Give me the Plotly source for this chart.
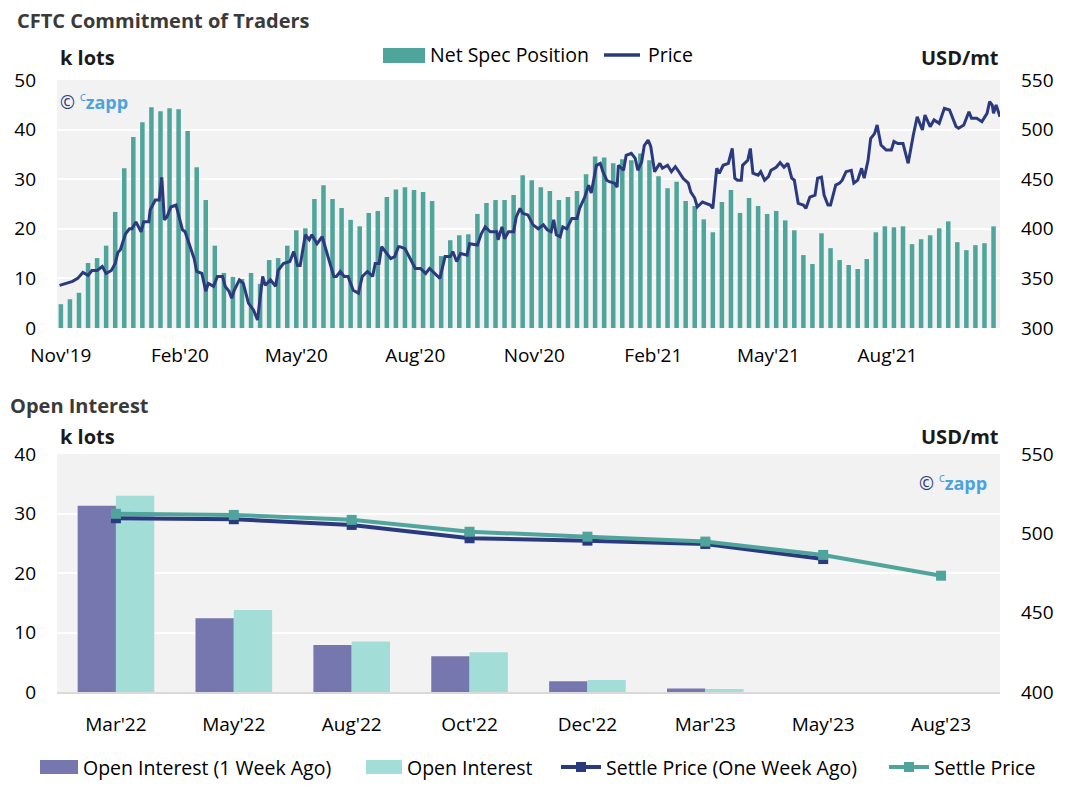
import plotly.graph_objects as go
import pandas as pd

# ---------------- Top chart data ----------------
spec_dates = pd.date_range("2019-11-01", periods=104, freq="7D")
net_spec = [
    4.8, 5.8, 7.1, 13.1, 14.1, 16.6, 23.4, 32.2, 38.5, 41.5,
    44.5, 43.7, 44.3, 44.1, 39.7, 32.4, 25.8, 16.6, 11.1, 10.3,
    9.9, 11.1, 8.9, 13.7, 14.1, 16.6, 19.7, 20.1, 26.0, 28.8,
    26.0, 24.2, 21.8, 20.5, 23.2, 23.6, 26.4, 27.9, 28.4, 27.8,
    27.4, 25.6, 14.5, 17.7, 18.7, 18.9, 23.0, 25.2, 25.8, 25.8,
    26.8, 30.8, 29.8, 28.4, 27.6, 25.8, 26.4, 27.6, 31.0, 34.6,
    34.4, 33.2, 34.0, 33.8, 35.2, 33.8, 30.6, 28.2, 29.5, 25.6,
    24.6, 21.9, 19.3, 25.4, 27.8, 23.2, 26.2, 24.6, 23.0, 23.6,
    21.7, 19.7, 14.7, 12.9, 19.1, 16.1, 13.7, 12.7, 11.9, 13.9,
    19.3, 20.5, 20.3, 20.5, 16.9, 17.9, 18.7, 20.1, 21.5, 17.3,
    15.7, 16.7, 17.1, 20.5,
]

price_dates = [
    "2019-10-31", "2019-11-05", "2019-11-10", "2019-11-14", "2019-11-18", "2019-11-22",
    "2019-11-25", "2019-11-29", "2019-12-03", "2019-12-06", "2019-12-10", "2019-12-13",
    "2019-12-15", "2019-12-17", "2019-12-21", "2019-12-24", "2019-12-26", "2019-12-29",
    "2020-01-02", "2020-01-04", "2020-01-08", "2020-01-09", "2020-01-13", "2020-01-16",
    "2020-01-18", "2020-01-20", "2020-01-22", "2020-01-25", "2020-01-29", "2020-01-31",
    "2020-02-03", "2020-02-05", "2020-02-09", "2020-02-12", "2020-02-14", "2020-02-18",
    "2020-02-21", "2020-02-23", "2020-02-27", "2020-03-01", "2020-03-05", "2020-03-07",
    "2020-03-10", "2020-03-12", "2020-03-14", "2020-03-18", "2020-03-21", "2020-03-25",
    "2020-03-29", "2020-04-01", "2020-04-05", "2020-04-07", "2020-04-11", "2020-04-15",
    "2020-04-17", "2020-04-21", "2020-04-26", "2020-04-29", "2020-05-02", "2020-05-04",
    "2020-05-08", "2020-05-11", "2020-05-13", "2020-05-17", "2020-05-21", "2020-05-26",
    "2020-05-30", "2020-06-01", "2020-06-04", "2020-06-07", "2020-06-10", "2020-06-14",
    "2020-06-18", "2020-06-21", "2020-06-25", "2020-06-29", "2020-07-01", "2020-07-04",
    "2020-07-06", "2020-07-10", "2020-07-13", "2020-07-16", "2020-07-19",
    "2020-07-20", "2020-07-24", "2020-07-28", "2020-08-01", "2020-08-05", "2020-08-09",
    "2020-08-12", "2020-08-16", "2020-08-20", "2020-08-24", "2020-08-28", "2020-08-30",
    "2020-09-02", "2020-09-05", "2020-09-10", "2020-09-12", "2020-09-18", "2020-09-21",
    "2020-09-24", "2020-09-28", "2020-10-03", "2020-10-04", "2020-10-07", "2020-10-09",
    "2020-10-12", "2020-10-16", "2020-10-18", "2020-10-21", "2020-10-23", "2020-10-27",
    "2020-10-31", "2020-11-04", "2020-11-08", "2020-11-11", "2020-11-14", "2020-11-16",
    "2020-11-18", "2020-11-21", "2020-11-23", "2020-11-26", "2020-11-30", "2020-12-04",
    "2020-12-06", "2020-12-10", "2020-12-13", "2020-12-15", "2020-12-19", "2020-12-22",
    "2020-12-24", "2020-12-27", "2020-12-29", "2021-01-02", "2021-01-04", "2021-01-05",
    "2021-01-09", "2021-01-11", "2021-01-15", "2021-01-18", "2021-01-20", "2021-01-23",
    "2021-01-25", "2021-01-28", "2021-01-30", "2021-02-02", "2021-02-06", "2021-02-08",
    "2021-02-12", "2021-02-15", "2021-02-18", "2021-02-20", "2021-02-24", "2021-02-28",
    "2021-03-02", "2021-03-05", "2021-03-07", "2021-03-11", "2021-03-17", "2021-03-19",
    "2021-03-22", "2021-03-24", "2021-03-27", "2021-03-31",
    "2021-04-03", "2021-04-05", "2021-04-07", "2021-04-10", "2021-04-11", "2021-04-15",
    "2021-04-17", "2021-04-19", "2021-04-23", "2021-04-25", "2021-04-28", "2021-05-01",
    "2021-05-03", "2021-05-07", "2021-05-10", "2021-05-13", "2021-05-16", "2021-05-19",
    "2021-05-21", "2021-05-24", "2021-05-28", "2021-05-30", "2021-06-02", "2021-06-06",
    "2021-06-08", "2021-06-11", "2021-06-13", "2021-06-16", "2021-06-18", "2021-06-22",
    "2021-06-25", "2021-06-27", "2021-06-30", "2021-07-04", "2021-07-06", "2021-07-09",
    "2021-07-12", "2021-07-14", "2021-07-17", "2021-07-19", "2021-07-22", "2021-07-24",
    "2021-07-27", "2021-07-31", "2021-08-04", "2021-08-06", "2021-08-09", "2021-08-13",
    "2021-08-17", "2021-08-21", "2021-08-24", "2021-08-28", "2021-08-30", "2021-09-03",
    "2021-09-06", "2021-09-10", "2021-09-14", "2021-09-18", "2021-09-20", "2021-09-23",
    "2021-09-25", "2021-09-29", "2021-10-03", "2021-10-05", "2021-10-09", "2021-10-13",
    "2021-10-17", "2021-10-19", "2021-10-21", "2021-10-22", "2021-10-24", "2021-10-27",
]
price_values = [
    343, 345, 347, 350, 356, 353,
    358, 358, 362, 355, 358, 365,
    376, 379, 395, 400, 400, 407,
    397, 407, 407, 419, 429, 429,
    452, 409, 412, 422, 424, 414,
    399, 397, 382, 370, 357, 355,
    337, 345, 342, 352, 352, 342,
    337, 330, 338, 348.5, 345, 325,
    318, 308, 352, 343, 348.5, 342,
    358, 365, 367, 377, 363, 363,
    394, 389, 394, 385, 392, 368.5,
    352, 352, 357, 352, 352, 338,
    335, 352, 357, 352, 365, 365,
    382, 375, 370, 372, 382,
    382, 380, 370, 360, 360, 355,
    360, 355, 350, 372, 372, 377,
    367, 375, 373.5, 385, 383.6, 395,
    402, 397, 397, 389, 402, 390,
    397, 397, 412, 420.6, 415.6, 414,
    404, 400, 404, 399, 397, 409,
    394, 392, 402, 400, 410.5, 410.5,
    420.6, 432, 444, 436, 464, 466,
    457.6, 449, 447.5, 446, 442, 464,
    459, 474, 476, 471, 459, 467.6,
    484, 489.5, 483, 457.6, 466, 461,
    464, 457.6, 462.6, 459, 451, 446,
    437, 431, 422, 427, 424, 420.6,
    461, 456, 464, 466,
    481, 451, 449, 449, 464, 469,
    481, 456, 454, 457.6, 449, 452.6,
    459, 462, 466.7, 462, 466, 451,
    449, 425.7, 424, 420.6, 432, 434,
    451, 452, 434, 424, 424, 444,
    446, 449, 457.6, 459, 446, 449,
    461, 451, 469, 491, 496, 504.6,
    484.5, 479.4, 479.4, 488, 486, 486,
    466, 494.6, 513, 499.6, 514.7, 503,
    509.7, 506.3, 521.4, 519.8, 513, 503,
    501.3, 504.6, 518, 511.4, 511.4, 508,
    516.4, 528.2, 524.8, 516.4, 524.8, 513,
]

# ---------------- Bottom chart data ----------------
oi_months = ["Mar'22", "May'22", "Aug'22", "Oct'22", "Dec'22", "Mar'23", "May'23", "Aug'23"]
oi_week_ago = [31.3, 12.4, 7.9, 6.0, 1.8, 0.6, 0, 0]
oi_now = [33.0, 13.8, 8.5, 6.7, 2.0, 0.5, 0, 0]
settle_week_ago = [509.5, 508.9, 505.3, 496.9, 495.4, 493.3, 483.8, None]
settle_now = [512.3, 511.6, 508.5, 501.0, 497.9, 494.8, 486.4, 473.3]

TEAL = "#4fa59b"
NAVY = "#2b3a7f"
PURPLE = "#7777b0"
LIGHT = "#a3ddd8"
FONT = "Open Sans"

# page body has an 8px margin; figure fills the rest of the 1084x798 window
OFF = 8
W, H = 1084 - 2 * OFF, 798 - 2 * OFF


def py(px):
    return 1 - (px - OFF) / H


def pxx(px):
    return (px - OFF) / W


fig = go.Figure()

fig.add_trace(go.Bar(
    x=spec_dates, y=net_spec, name="Net Spec Position",
    marker=dict(color=TEAL, line=dict(width=0)),
    width=3.5 * 86400000, xaxis="x", yaxis="y", showlegend=False,
))
fig.add_trace(go.Scatter(
    x=pd.to_datetime(price_dates), y=price_values, name="Price", mode="lines",
    line=dict(color=NAVY, width=3), xaxis="x", yaxis="y2", showlegend=False,
))

fig.add_trace(go.Bar(
    x=oi_months, y=oi_week_ago, name="Open Interest (1 Week Ago)",
    marker=dict(color=PURPLE, line=dict(width=0)), xaxis="x2", yaxis="y3", showlegend=False,
))
fig.add_trace(go.Bar(
    x=oi_months, y=oi_now, name="Open Interest",
    marker=dict(color=LIGHT, line=dict(width=0)), xaxis="x2", yaxis="y3", showlegend=False,
))
fig.add_trace(go.Scatter(
    x=oi_months, y=settle_week_ago, name="Settle Price (One Week Ago)", mode="lines+markers",
    line=dict(color=NAVY, width=4), marker=dict(symbol="square", size=10, color=NAVY),
    xaxis="x2", yaxis="y4", showlegend=False,
))
fig.add_trace(go.Scatter(
    x=oi_months, y=settle_now, name="Settle Price", mode="lines+markers",
    line=dict(color=TEAL, width=4), marker=dict(symbol="square", size=10, color=TEAL),
    xaxis="x2", yaxis="y4", showlegend=False,
))

tickfont = dict(family=FONT, size=19, color="#000000")
dom_x = [pxx(57), pxx(1000)]

fig.update_layout(
    width=W, height=H,
    margin=dict(l=0, r=0, t=0, b=0, autoexpand=False),
    paper_bgcolor="white",
    plot_bgcolor="#f2f2f2",
    font=dict(family=FONT, size=19, color="#000000"),
    showlegend=False,
    barmode="group", bargap=0.35, bargroupgap=0,
    xaxis=dict(
        domain=dom_x, anchor="y", type="date", automargin=False,
        range=["2019-10-29", "2021-10-27"],
        tick0="2019-11-01", dtick="M3", tickformat="%b'%y",
        showgrid=False, zeroline=False, showline=False, ticks="",
        tickfont=tickfont, ticklabelstandoff=14,
    ),
    yaxis=dict(
        domain=[py(328), py(80)], anchor="x", range=[0, 50], dtick=10, automargin=False,
        showgrid=True, gridcolor="white", gridwidth=2, zeroline=False,
        tickfont=tickfont, ticklabelstandoff=20,
    ),
    yaxis2=dict(
        overlaying="y", side="right", anchor="x", range=[300, 550], dtick=50, automargin=False,
        showgrid=False, zeroline=False, tickfont=tickfont, ticklabelstandoff=20,
    ),
    xaxis2=dict(
        domain=dom_x, anchor="y3", type="category", automargin=False,
        showgrid=False, zeroline=False, showline=True, linecolor="#d9d9d9", linewidth=2,
        ticks="", tickfont=tickfont, ticklabelstandoff=14,
    ),
    yaxis3=dict(
        domain=[py(692), py(454)], anchor="x2", range=[0, 40], dtick=10, automargin=False,
        showgrid=True, gridcolor="white", gridwidth=2, zeroline=False,
        tickfont=tickfont, ticklabelstandoff=20,
    ),
    yaxis4=dict(
        overlaying="y3", side="right", anchor="x2", range=[400, 550], dtick=50, automargin=False,
        showgrid=False, zeroline=False, tickfont=tickfont, ticklabelstandoff=20,
    ),
)

ann = []
shapes = []


def label(text, x, y, size=20, color="#000000", xanchor="left"):
    ann.append(dict(text=text, x=pxx(x), y=py(y), xanchor=xanchor, yanchor="middle",
                    xref="paper", yref="paper", showarrow=False,
                    font=dict(family=FONT, size=size, color=color)))


label("<b>CFTC Commitment of Traders</b>", 15, 20, color="#3a3a3a")
label("<b>Open Interest</b>", 8, 405, color="#3a3a3a")
label("<b>k lots</b>", 58, 58, color="#1a1a1a")
label("<b>k lots</b>", 58, 437, color="#1a1a1a")
label("<b>USD/mt</b>", 1001, 58, color="#1a1a1a", xanchor="right")
label("<b>USD/mt</b>", 1001, 437, color="#1a1a1a", xanchor="right")

wm = ("<span style='color:#2b3a7f'>©</span> "
      "<span style='color:#4aa3df'><sup>c</sup><b>zapp</b></span>")
label(wm, 58, 101, size=18)
label(wm, 917, 482, size=18)


def rect(x0, x1, y0, y1, color):
    shapes.append(dict(type="rect", xref="paper", yref="paper",
                       x0=pxx(x0), x1=pxx(x1), y0=py(y1), y1=py(y0),
                       fillcolor=color, line=dict(width=0)))


def hline(x0, x1, y, color, width):
    shapes.append(dict(type="line", xref="paper", yref="paper",
                       x0=pxx(x0), x1=pxx(x1), y0=py(y), y1=py(y),
                       line=dict(color=color, width=width)))


# Top legend
rect(383, 425, 48, 63, TEAL)
label("Net Spec Position", 428, 55, size=19.5)
hline(604, 640, 55, NAVY, 3.5)
label("Price", 646, 55, size=19.5)

# Bottom legend
LY = 767
rect(40, 78, LY - 7, LY + 7, PURPLE)
label("Open Interest (1 Week Ago)", 81, LY, size=19.5)
rect(366, 402, LY - 7, LY + 7, LIGHT)
label("Open Interest", 405, LY, size=19.5)
hline(561, 601, LY, NAVY, 4)
rect(576, 586, LY - 5, LY + 5, NAVY)
label("Settle Price (One Week Ago)", 604, LY, size=19.5)
hline(889, 929, LY, TEAL, 4)
rect(904, 914, LY - 5, LY + 5, TEAL)
label("Settle Price", 932, LY, size=19.5)

fig.update_layout(annotations=ann, shapes=shapes)

fig.write_html("out.html")
